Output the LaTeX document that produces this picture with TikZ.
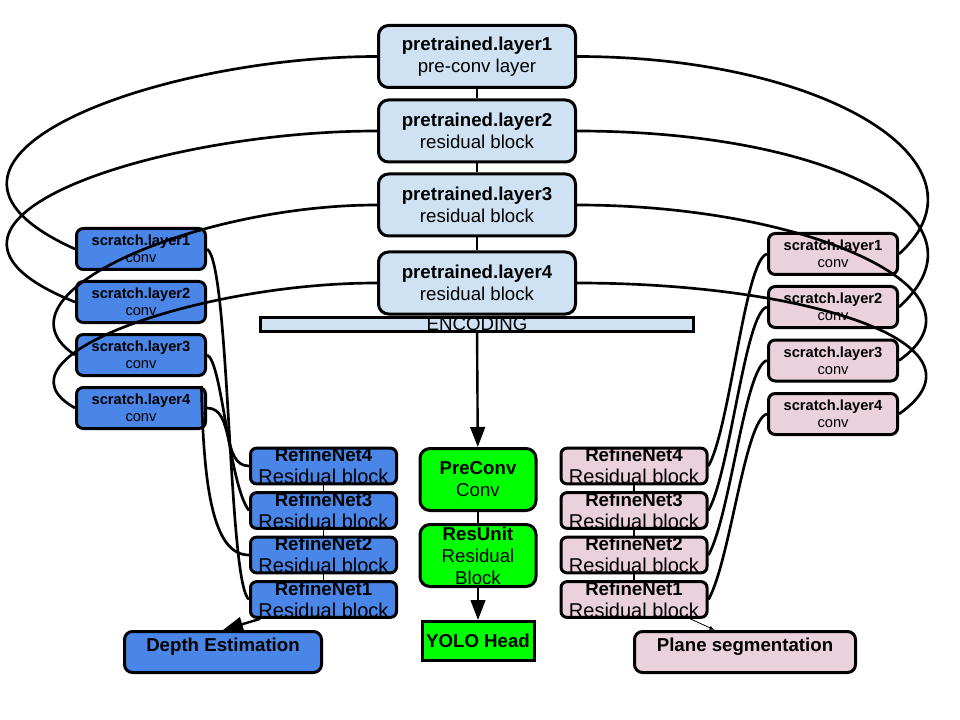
\documentclass[tikz,border=0pt]{standalone}
\usepackage{fontspec}
\setmainfont{Liberation Sans}
\usetikzlibrary{arrows.meta}

\definecolor{hellblau}{HTML}{CFE2F3}
\definecolor{blau}{HTML}{4A86E8}
\definecolor{rosa}{HTML}{EAD1DC}
\definecolor{gruen}{HTML}{00FF00}

\tikzset{
    block/.style={draw=black, line width=2.25pt, rounded corners=7.5pt, inner sep=0pt,
        align=center, font=\fontsize{14}{16.5}\selectfont},
    vorn/.style={block, fill=hellblau, minimum width=147.75pt, minimum height=46.5pt},
    kratz/.style={block, rounded corners=5pt, minimum width=96.75pt, minimum height=30.75pt,
        font=\fontsize{11}{12.75}\selectfont},
    verfein/.style={block, rounded corners=4.5pt, minimum width=109.5pt, minimum height=26.25pt},
    gruenblock/.style={block, fill=gruen, minimum width=87pt, minimum height=46.5pt},
    ausgang/.style={block, rounded corners=6pt, minimum height=30.75pt,
        text height=10.5pt, text depth=12pt},
    kurve/.style={line width=2pt},
    pfeil/.style={-{Triangle[length=15pt,width=11pt]}, line width=1.8pt},
    duennpfeil/.style={-{Latex[length=4pt,width=3pt]}, line width=0.6pt},
}

\begin{document}
\begin{tikzpicture}[x=0.75pt,y=-0.75pt]
        \useasboundingbox (0,0) rectangle (960,720);

        % Encoder
        \node[vorn] (p1) at (477,56.5) {\textbf{pretrained.layer1}\\pre-conv layer};
        \node[vorn] (p2) at (477,131) {\textbf{pretrained.layer2}\\residual block};
        \node[vorn] (p3) at (477,205) {\textbf{pretrained.layer3}\\residual block};
        \node[vorn] (p4) at (477,283) {\textbf{pretrained.layer4}\\residual block};
        \draw[line width=1.5pt] (p1) -- (p2) -- (p3) -- (p4);

        \node[draw, line width=2.25pt, fill=hellblau, inner sep=0pt, minimum width=324.75pt,
            minimum height=10.5pt, font=\fontsize{14}{16}\selectfont] (bar) at (477,324.5) {ENCODING};

        % Scratch links
        \foreach \i/\y in {1/249,2/302,3/355,4/408}
            \node[kratz, fill=blau] (sl\i) at (141,\y) {\textbf{scratch.layer\i}\\conv};

        % Scratch rechts
        \foreach \i/\y in {1/254,2/307,3/360.5,4/414}
            \node[kratz, fill=rosa] (sr\i) at (833,\y) {\textbf{scratch.layer\i}\\conv};

        % RefineNets
        \foreach \i/\y in {4/466,3/510.5,2/555,1/599.5} {
            \node[verfein, fill=blau] (rl\i) at (323.5,\y)
                {\textbf{RefineNet\i}\\{\fontsize{15}{16.5}\selectfont Residual block}};
            \node[verfein, fill=rosa] (rr\i) at (634,\y)
                {\textbf{RefineNet\i}\\{\fontsize{15}{16.5}\selectfont Residual block}};
        }
        \draw[line width=0.75pt] (rl4) -- (rl3) -- (rl2) -- (rl1);
        \draw[line width=1.8pt] (rr4) -- (rr3) -- (rr2) -- (rr1);

        % YOLO
        \node[gruenblock] (pc) at (478,479.5) {\textbf{PreConv}\\Conv};
        \node[gruenblock] (ru) at (478,555.5) {\textbf{ResUnit}\\Residual\\Block};
        \node[draw, line width=2.25pt, fill=gruen, inner sep=0pt, minimum width=84pt,
            minimum height=29.25pt, font=\fontsize{14}{16}\selectfont] (yolo) at (478,641) {\textbf{YOLO Head}};
        \draw[line width=1.5pt] (pc) -- (ru);
        \draw[pfeil] (bar) -- (pc);
        \draw[pfeil] (ru) -- (yolo);

        % Ausgaenge
        \node[ausgang, fill=blau, minimum width=147.75pt] (de) at (223,652) {\textbf{Depth Estimation}};
        \node[ausgang, fill=rosa, minimum width=165.75pt] (ps) at (745,652) {\textbf{Plane segmentation}};
        \draw[pfeil] (rl1.-163) -- (de.north);
        \draw[duennpfeil] (rr1.-19) -- (ps.144);

        % Skip-Verbindungen links
        \draw[kurve] (p1.west) .. controls +(-220,0) and +(-200,-90) .. (sl1.west);
        \draw[kurve] (p2.west) .. controls +(-220,0) and +(-200,-80) .. (sl2.west);
        \draw[kurve] (p3.west) .. controls +(-180,0) and +(-90,-60) .. (sl3.west);
        \draw[kurve] (p4.west) .. controls +(-180,0) and +(-90,-50) .. (sl4.west);

        % Skip-Verbindungen rechts
        \draw[kurve] (p1.east) .. controls +(250,0) and +(100,-90) .. (sr1.east);
        \draw[kurve] (p2.east) .. controls +(250,0) and +(100,-90) .. (sr2.east);
        \draw[kurve] (p3.east) .. controls +(230,0) and +(100,-70) .. (sr3.east);
        \draw[kurve] (p4.east) .. controls +(230,0) and +(100,-70) .. (sr4.east);

        % Scratch -> RefineNet
        \draw[kurve] (sl1.east) .. controls +(23,13) and +(-21,-15) .. (rl1.west);
        \draw[kurve] (sl4.20) .. controls +(2,110) and +(-34,0) .. (rl2.west);
        \draw[kurve] (sl3.east) .. controls +(15,5) and +(-20,-25) .. (rl3.west);
        \draw[kurve] (sl4.east) to[out=0,in=180] (rl4.west);
        \foreach \s/\r in {1/4,2/3,3/2,4/1}
            \draw[kurve] (sr\s.west) .. controls +(-22,5) and +(22,-40) .. (rr\r.east);
    \end{tikzpicture}
\end{document}
